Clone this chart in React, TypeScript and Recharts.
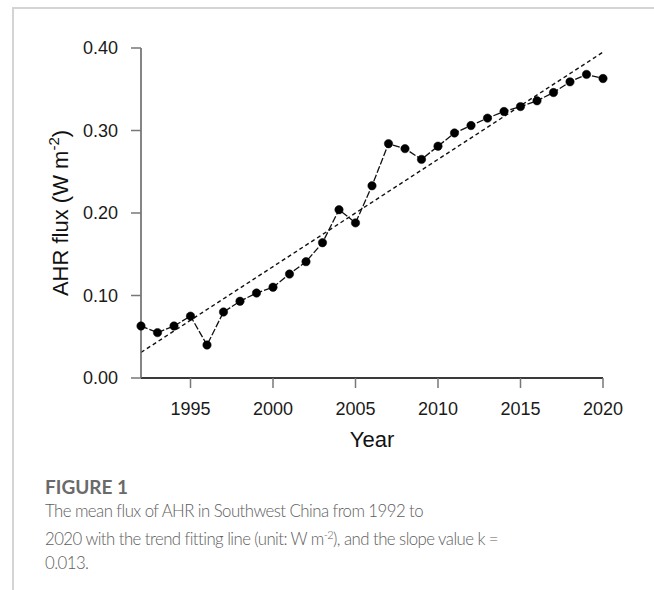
import React from "react";
import { LineChart, Line, XAxis, YAxis } from "recharts";

// Annual mean AHR flux (W m^-2), 1992–2020
const years = [
  1992, 1993, 1994, 1995, 1996, 1997, 1998, 1999, 2000, 2001, 2002, 2003, 2004, 2005,
  2006, 2007, 2008, 2009, 2010, 2011, 2012, 2013, 2014, 2015, 2016, 2017, 2018, 2019, 2020,
];
const flux = [
  0.063, 0.055, 0.063, 0.075, 0.04, 0.08, 0.093, 0.103, 0.11, 0.126, 0.141, 0.164, 0.204, 0.188,
  0.233, 0.284, 0.278, 0.265, 0.281, 0.297, 0.306, 0.315, 0.323, 0.329, 0.336, 0.346, 0.359, 0.368, 0.363,
];

// Linear trend endpoints (slope k = 0.013 per year)
const trendYears = [1992, 2020];
const trendValues = [0.031, 0.395];

const xTicks = [1995, 2000, 2005, 2010, 2015, 2020];
const yTicks = [0, 0.1, 0.2, 0.3, 0.4];

const seriesData = years.map((year, i) => ({ year, flux: flux[i] }));
const trendData = trendYears.map((year, i) => ({ year, trend: trendValues[i] }));

const AXIS_FONT = "'Liberation Sans', Arial, Helvetica, sans-serif";
const CAPTION_FONT = "Lato, 'Open Sans', sans-serif";

const YTitle = (props: any) => {
  const vb = props.viewBox;
  const x = vb.x - 13;
  const y = vb.y + vb.height / 2;
  return (
    <text
      x={x}
      y={y}
      transform={`rotate(-90, ${x}, ${y})`}
      textAnchor="middle"
      fontFamily={AXIS_FONT}
      fontSize={22}
      fill="#111"
    >
      AHR flux (W m
      <tspan dy={-9} fontSize={15}>-2</tspan>
      <tspan dy={9}>)</tspan>
    </text>
  );
};

const XTitle = (props: any) => {
  const vb = props.viewBox;
  return (
    <text
      x={vb.x + vb.width / 2}
      y={vb.y + 69}
      textAnchor="middle"
      fontFamily={AXIS_FONT}
      fontSize={22}
      fill="#111"
    >
      Year
    </text>
  );
};

export default function App() {
  return (
    <div
      style={{
        position: "absolute",
        left: 0,
        top: 0,
        width: 654,
        height: 590,
        background: "#fff",
        overflow: "hidden",
      }}
    >
      {/* page frame */}
      <div style={{ position: "absolute", left: 13, top: 7, right: 0, height: 1.5, background: "#d4d4d4" }} />
      <div style={{ position: "absolute", left: 12, top: 7, width: 1.5, bottom: 0, background: "#d4d4d4" }} />

      <div style={{ position: "absolute", left: 0, top: 0 }}>
        <LineChart
          width={654}
          height={470}
          data={seriesData}
          margin={{ top: 48, right: 51, bottom: 62, left: 81 }}
        >
          <XAxis
            dataKey="year"
            type="number"
            domain={[1992, 2020]}
            ticks={xTicks}
            height={30}
            tickSize={10}
            tickMargin={14}
            axisLine={{ stroke: "#3a3a3a", strokeWidth: 2.2 }}
            tickLine={{ stroke: "#777", strokeWidth: 1.5 }}
            tick={{ fontSize: 18, fill: "#1a1a1a", fontFamily: AXIS_FONT }}
            label={<XTitle />}
          />
          <YAxis
            type="number"
            domain={[0, 0.4]}
            ticks={yTicks}
            width={60}
            tickSize={10}
            tickMargin={13}
            tickFormatter={(v: number) => v.toFixed(2)}
            axisLine={{ stroke: "#666", strokeWidth: 1.6 }}
            tickLine={{ stroke: "#777", strokeWidth: 1.5 }}
            tick={{ fontSize: 18, fill: "#1a1a1a", fontFamily: AXIS_FONT }}
            label={<YTitle />}
          />
          <Line
            data={trendData}
            dataKey="trend"
            type="linear"
            stroke="#111"
            strokeWidth={1.4}
            strokeDasharray="4 3"
            dot={false}
            activeDot={false}
            isAnimationActive={false}
          />
          <Line
            dataKey="flux"
            type="linear"
            stroke="#111"
            strokeWidth={1.3}
            strokeDasharray="7 2"
            dot={{ r: 4.2, fill: "#000", stroke: "#000", strokeWidth: 0.5, strokeDasharray: "" }}
            activeDot={false}
            isAnimationActive={false}
          />
        </LineChart>
      </div>

      {/* caption */}
      <div
        style={{
          position: "absolute",
          left: 45,
          top: 476,
          fontFamily: CAPTION_FONT,
          fontWeight: 700,
          fontSize: 19,
          color: "#6a6a6a",
          whiteSpace: "nowrap",
          lineHeight: "22px",
        }}
      >
        FIGURE 1
      </div>
      <div
        style={{
          position: "absolute",
          left: 45,
          top: 499,
          fontFamily: CAPTION_FONT,
          fontWeight: 300,
          fontSize: 16.8,
          letterSpacing: -0.55,
          color: "#5e5e5e",
          whiteSpace: "nowrap",
          lineHeight: "24px",
        }}
      >
        <div>The mean flux of AHR in Southwest China from 1992 to</div>
        <div>
          2020 with the trend fitting line (unit: W m
          <span style={{ fontSize: 11, verticalAlign: "6px" }}>-2</span>), and the slope value k =
        </div>
        <div>0.013.</div>
      </div>
    </div>
  );
}
